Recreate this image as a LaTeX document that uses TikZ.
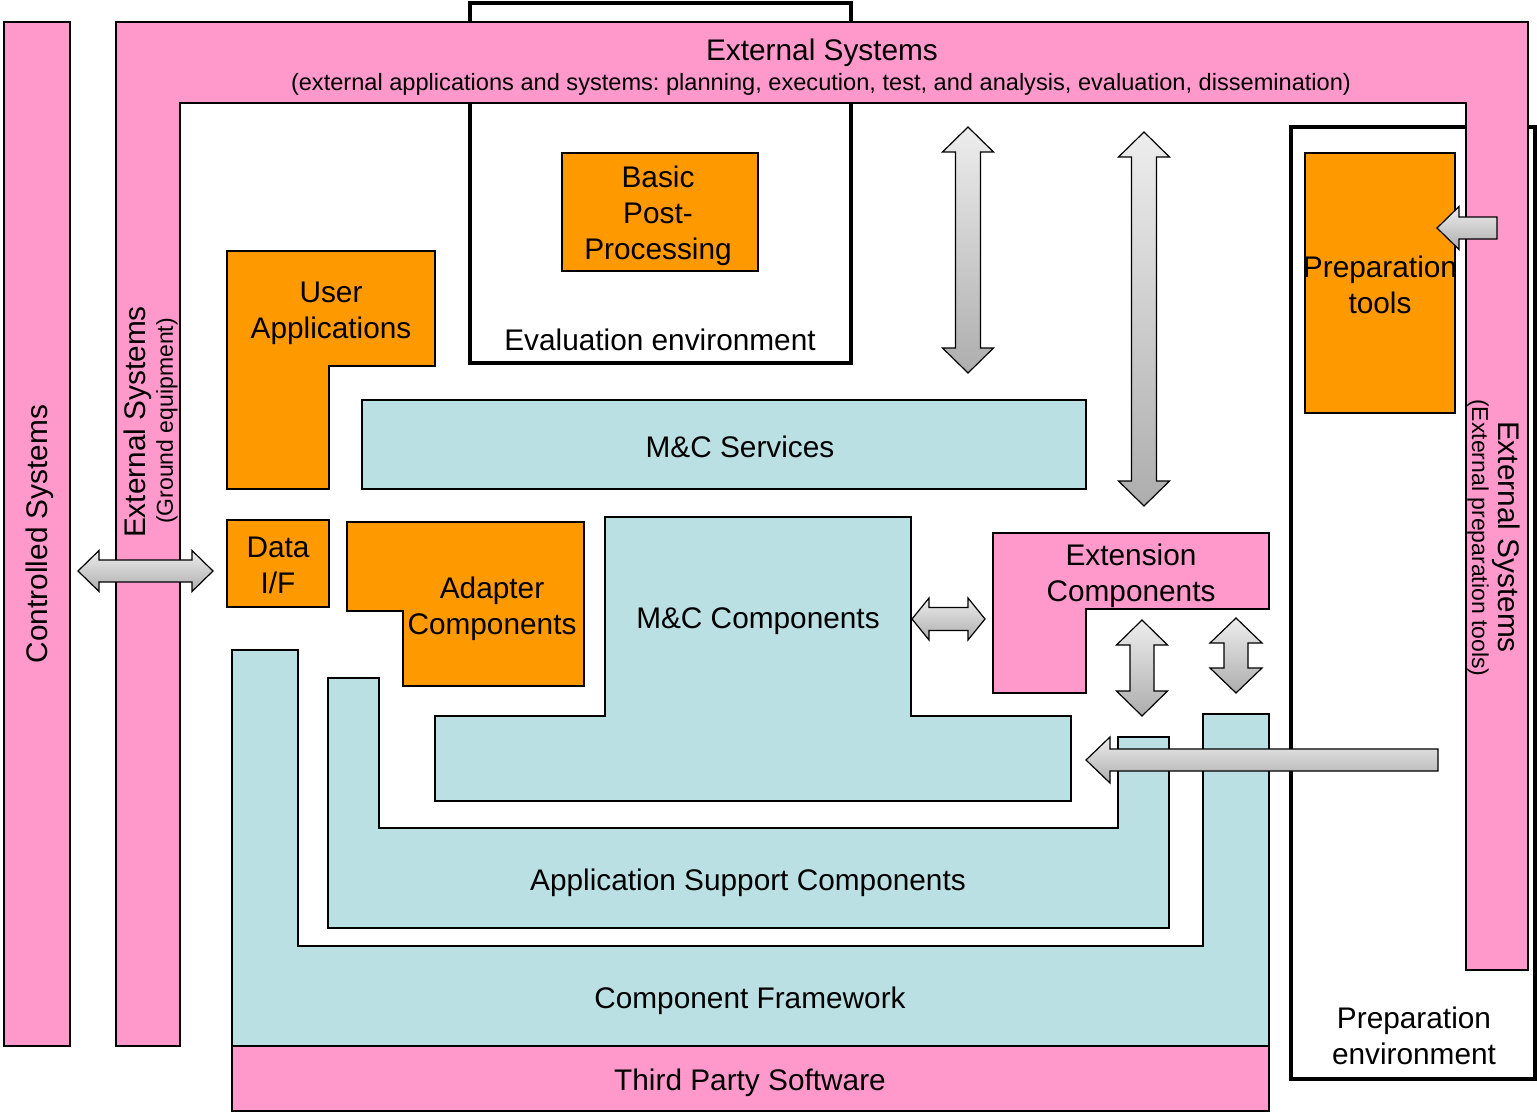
\documentclass[tikz,border=0pt]{standalone}
\usepackage{fontspec}
\setmainfont{Liberation Sans}
\frenchspacing
\definecolor{pinkfill}{HTML}{FF99CC}
\definecolor{orangefill}{HTML}{FF9900}
\definecolor{bluefill}{HTML}{BAE0E3}

% vertical double block arrow: x, y top tip, y bottom tip, shaft half width, head half width, head length
\newcommand\vdarrow[6]{%
  \path[barrow] (#1,#2) -- ({#1+#5},{#2+#6}) -- ({#1+#4},{#2+#6}) -- ({#1+#4},{#3-#6})
    -- ({#1+#5},{#3-#6}) -- (#1,#3) -- ({#1-#5},{#3-#6}) -- ({#1-#4},{#3-#6})
    -- ({#1-#4},{#2+#6}) -- ({#1-#5},{#2+#6}) -- cycle;}
% horizontal double block arrow: y, x left tip, x right tip, shaft half, head half, head length
\newcommand\hdarrow[6]{%
  \path[barrow] (#2,#1) -- ({#2+#6},{#1-#5}) -- ({#2+#6},{#1-#4}) -- ({#3-#6},{#1-#4})
    -- ({#3-#6},{#1-#5}) -- (#3,#1) -- ({#3-#6},{#1+#5}) -- ({#3-#6},{#1+#4})
    -- ({#2+#6},{#1+#4}) -- ({#2+#6},{#1+#5}) -- cycle;}
% left-pointing block arrow: y, x tip, x tail, shaft half, head half, head length
\newcommand\lfarrow[6]{%
  \path[barrow] (#2,#1) -- ({#2+#6},{#1-#5}) -- ({#2+#6},{#1-#4}) -- (#3,{#1-#4})
    -- (#3,{#1+#4}) -- ({#2+#6},{#1+#4}) -- ({#2+#6},{#1+#5}) -- cycle;}

\begin{document}
\begin{tikzpicture}[x=1pt,y=-1pt,
  box/.style={draw=black, line width=1.3pt, line join=miter},
  pinkbox/.style={box, fill=pinkfill},
  orangebox/.style={box, fill=orangefill},
  bluebox/.style={box, fill=bluefill},
  envbox/.style={draw=black, line width=3.5pt, fill=white},
  lab/.style={font=\fontsize{29.8}{36}\selectfont, align=center, inner sep=0pt},
  sublab/.style={font=\fontsize{23}{27}\selectfont, align=center, inner sep=0pt},
  barrow/.style={draw=black, line width=1.2pt, top color=black!7, bottom color=black!32, line join=miter}]
\useasboundingbox[fill=white] (0,0) rectangle (1537,1113);

% environments
\path[envbox] (470,3) rectangle (851,363);
\path[envbox] (1291,127) rectangle (1535,1079);

% external systems band (top and ground-equipment leg, preparation-tools leg)
\path[pinkbox] (116,22) -- (1528,22) -- (1528,970) -- (1466,970) -- (1466,103)
  -- (180,103) -- (180,1046) -- (116,1046) -- cycle;
\node[lab] (ext) at (822,53) {External Systems};
\node[sublab, font=\fontsize{23.6}{27}\selectfont] (extsub) at (821,84) {(external applications and systems: planning, execution, test, and analysis, evaluation, dissemination)};
\node[lab, rotate=90] (extl) at (138,422) {External Systems};
\node[sublab, rotate=90] (extlsub) at (167,421) {(Ground equipment)};
\node[lab, rotate=-90] (extr) at (1506,537) {External Systems};
\node[sublab, rotate=-90] (extrsub) at (1478,538) {(External preparation tools)};

% controlled systems
\path[pinkbox] (4,22) rectangle (70,1046);
\node[lab, rotate=90] (ctrl) at (40,534) {Controlled Systems};

% evaluation environment content
\path[orangebox] (562,153) rectangle (758,271);
\node[lab] (bpp) at (658,216) {Basic\\Post-\\Processing};
\node[lab] (evalenv) at (660,340) {Evaluation environment};

% user applications
\path[orangebox] (227,251) -- (435,251) -- (435,366) -- (329,366) -- (329,489) -- (227,489) -- cycle;
\node[lab] (userapp) at (331,313) {User\\Applications};

% M&C services
\path[bluebox] (362,400) rectangle (1086,489);
\node[lab] (mcserv) at (740,447) {M\&C Services};

% data interface
\path[orangebox] (227,520) rectangle (329,607);
\node[lab] (dataif) at (278,565) {Data\\I/F};

% adapter components
\path[orangebox] (347,522) -- (584,522) -- (584,686) -- (403,686) -- (403,611) -- (347,611) -- cycle;
\node[lab] (adapter) at (492,609) {Adapter\\Components};

% M&C components
\path[bluebox] (605,517) -- (911,517) -- (911,716) -- (1071,716) -- (1071,801) -- (435,801)
  -- (435,716) -- (605,716) -- cycle;
\node[lab] (mccomp) at (758,621) {M\&C Components};

% extension components
\path[pinkbox] (993,533) -- (1269,533) -- (1269,609) -- (1086,609) -- (1086,693) -- (993,693) -- cycle;
\node[lab] (extcomp) at (1131,576) {Extension\\Components};

% application support components
\path[bluebox] (328,678) -- (379,678) -- (379,828) -- (1118,828) -- (1118,737) -- (1169,737)
  -- (1169,928) -- (328,928) -- cycle;
\node[lab] (appsup) at (748,883) {Application Support Components};

% component framework
\path[bluebox] (232,650) -- (298,650) -- (298,946) -- (1203,946) -- (1203,714) -- (1269,714)
  -- (1269,1046) -- (232,1046) -- cycle;
\node[lab] (compfw) at (750,1001) {Component Framework};

% third party software
\path[pinkbox] (232,1046) rectangle (1269,1111);
\node[lab] (thirdp) at (750,1083) {Third Party Software};

% preparation environment content
\path[orangebox] (1305,153) rectangle (1455,413);
\node[lab] (preptools) at (1380,285) {Preparation\\tools};
\node[lab] (prepenv) at (1414,1036) {Preparation\\environment};

% interaction arrows
\vdarrow{968}{127}{373}{12.5}{25.5}{25}
\vdarrow{1144}{132}{506}{12.5}{25.5}{25}
\hdarrow{571}{78}{213}{11}{20.5}{21}
\hdarrow{619}{912}{985}{11.5}{21}{17}
\vdarrow{1142}{620}{716}{12}{25.5}{25}
\vdarrow{1236}{618}{693}{12}{26}{25}
\lfarrow{760}{1086}{1438}{11}{23}{24}
\lfarrow{228}{1437}{1497}{11}{21.5}{22}
\end{tikzpicture}
\end{document}
